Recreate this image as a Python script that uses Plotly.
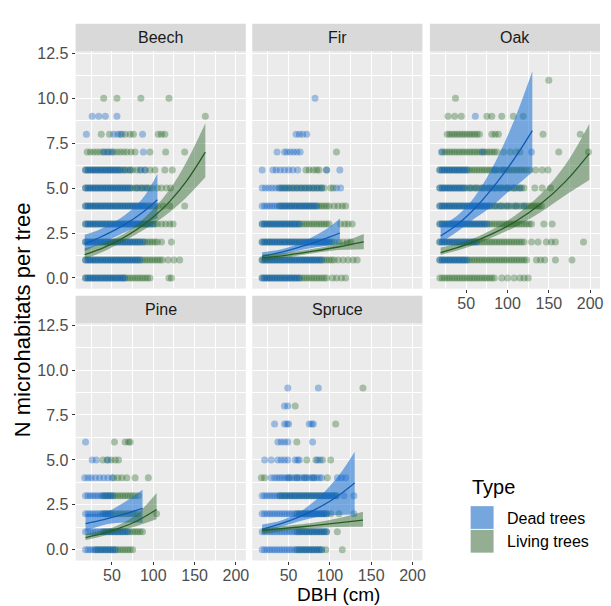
import plotly.graph_objects as go

# ---------------- data ----------------
panel_names = ["Beech", "Fir", "Oak", "Pine", "Spruce"]
type_labels = ["Dead trees", "Living trees"]
x_ticks = [50, 100, 150, 200]
y_ticks = [0, 2.5, 5, 7.5, 10, 12.5]
y_tick_text = ["0.0", "2.5", "5.0", "7.5", "10.0", "12.5"]

# observed trees: {N microhabitats: [DBH values]}
beech_dead = {
    0: [18, 21, 24, 27, 30, 33, 36, 39, 42, 45, 48, 51, 54, 57, 60, 63, 65],
    1: [18, 21, 24, 27, 30, 33, 36, 39, 42, 45, 48, 51, 54, 57, 60, 63, 66, 69, 72, 75, 78, 81, 84],
    2: [18, 21, 24, 27, 30, 33, 36, 39, 42, 45, 48, 51, 54, 57, 60, 63, 66, 69, 72, 75, 78, 81, 84, 88],
    3: [18, 21, 24, 27, 30, 33, 36, 39, 42, 45, 48, 51, 54, 57, 60, 63, 66, 69, 72, 75, 78, 81, 84, 87, 90, 93, 96, 100],
    4: [18, 21, 24, 27, 30, 33, 36, 39, 42, 45, 48, 51, 54, 57, 60, 63, 66, 69, 72, 75, 78, 81, 84, 87, 90, 95, 102],
    5: [18, 21, 24, 27, 30, 33, 36, 39, 42, 45, 48, 51, 54, 57, 60, 63, 66, 69, 72, 80, 86, 92],
    6: [18, 21, 24, 27, 30, 33, 36, 39, 42, 45, 48, 51, 54, 57, 60, 65, 72, 84, 90],
    7: [40, 45, 50, 88],
    8: [19, 52, 57, 62, 87],
    9: [26, 34, 42, 56],
}
beech_live = {
    0: [18, 21, 24, 27, 30, 33, 36, 39, 42, 45, 48, 51, 54, 57, 60, 63, 66, 69, 72, 75, 78, 81, 84, 87, 90, 93, 96, 119, 122],
    1: [18, 21, 24, 27, 30, 33, 36, 39, 42, 45, 48, 51, 54, 57, 60, 63, 66, 69, 72, 75, 78, 81, 84, 87, 90, 93, 96, 99, 102, 105, 108, 111, 118, 125, 132],
    2: [18, 21, 24, 27, 30, 33, 36, 39, 42, 45, 48, 51, 54, 57, 60, 63, 66, 69, 72, 75, 78, 81, 84, 87, 90, 93, 96, 99, 102, 105, 110, 122],
    3: [18, 21, 24, 27, 30, 33, 36, 39, 42, 45, 48, 51, 54, 57, 60, 63, 66, 69, 72, 75, 78, 81, 84, 87, 90, 93, 96, 99, 102, 105, 110, 115, 120, 124],
    4: [18, 21, 24, 27, 30, 33, 36, 39, 42, 45, 48, 51, 54, 57, 60, 63, 66, 69, 72, 75, 78, 81, 84, 87, 90, 93, 96, 99, 105, 112, 120, 138],
    5: [18, 21, 24, 27, 30, 33, 36, 39, 42, 45, 48, 51, 54, 57, 60, 63, 66, 69, 72, 75, 78, 81, 84, 87, 90, 93, 96, 99, 105, 110, 116, 121],
    6: [18, 21, 24, 27, 30, 33, 36, 39, 42, 45, 48, 51, 54, 57, 60, 63, 66, 69, 72, 75, 80, 85, 90, 96, 102, 114, 123],
    7: [20, 24, 28, 32, 36, 40, 44, 48, 52, 56, 60, 64, 68, 73, 78, 96, 115, 138],
    8: [37, 47, 60, 66, 72, 76, 106, 110, 114],
    9: [163],
    10: [40, 56, 85, 119],
}
fir_dead = {
    0: [18, 21, 24, 27, 30, 33, 36, 39, 42, 45, 48, 51, 54, 57, 60, 63],
    1: [18, 21, 24, 27, 30, 33, 36, 39, 42, 45, 48, 51, 54, 57, 60, 63, 66, 69, 72, 75, 78, 81, 84, 87, 90],
    2: [18, 21, 24, 27, 30, 33, 36, 39, 42, 45, 48, 51, 54, 57, 60, 63, 66, 69, 72, 75, 78, 81, 84, 87, 90, 93, 96, 99],
    3: [18, 21, 24, 27, 30, 33, 36, 39, 42, 45, 48, 51, 54, 57, 60, 63],
    4: [18, 21, 24, 27, 30, 33, 36, 39, 42, 45, 48, 51, 54, 57, 60, 63, 66, 69, 72, 75, 78, 81, 84],
    5: [18, 22, 26, 30, 34, 38, 42, 46, 50, 55, 60, 65, 70, 75, 80, 85, 90, 108, 113],
    6: [18, 31, 35, 40, 45, 50, 55, 61, 96, 112],
    7: [36, 45, 48, 52, 56, 60, 64],
    8: [59, 63, 67, 72],
    10: [82],
}
fir_live = {
    0: [18, 21, 24, 27, 30, 33, 36, 39, 42, 45, 48, 51, 54, 57, 60, 63, 66, 69, 72, 75, 78, 81, 84, 87, 90, 93, 96, 103, 108, 114, 119],
    1: [18, 21, 24, 27, 30, 33, 36, 39, 42, 45, 48, 51, 54, 57, 60, 63, 66, 69, 72, 75, 78, 81, 84, 87, 90, 93, 96, 99, 102, 105, 110, 116, 122, 128, 133],
    2: [18, 21, 24, 27, 30, 33, 36, 39, 42, 45, 48, 51, 54, 57, 60, 63, 66, 69, 72, 75, 78, 81, 84, 87, 90, 93, 96, 99, 102, 105, 111, 116, 121, 125],
    3: [18, 21, 24, 27, 30, 33, 36, 39, 42, 45, 48, 51, 54, 57, 60, 63, 66, 69, 72, 75, 78, 81, 84, 87, 90, 93, 96, 99, 113, 118, 122, 127],
    4: [39, 42, 45, 48, 51, 54, 57, 60, 63, 66, 69, 72, 75, 78, 81, 84, 87, 90, 93, 96, 99, 105, 110, 115, 119],
    5: [39, 42, 45, 48, 51, 54, 57, 60, 63, 66, 69, 72, 75, 78, 81, 84, 87, 90, 93, 101, 104],
    6: [71, 75, 80, 84, 87, 96],
    7: [108],
}
oak_dead = {
    1: [18, 21, 24, 27, 30, 33, 36, 39, 42, 45, 48, 51],
    2: [18, 21, 24, 27, 30, 33, 36, 39, 42, 45, 48, 51, 54, 57, 60, 63],
    3: [18, 21, 24, 27, 30, 33, 36, 39, 42, 45, 48, 51, 54, 57, 60, 63, 66, 69, 72, 75],
    4: [18, 21, 24, 27, 30, 33, 36, 39, 42, 45, 48, 51, 54, 57, 60, 63, 66, 69, 72, 75, 78, 85, 92, 100, 110, 120],
    5: [18, 21, 24, 27, 30, 33, 36, 39, 42, 45, 48, 55, 62, 70, 78, 85, 92, 100, 108, 115],
    6: [18, 21, 24, 27, 30, 33, 36, 39, 42, 45, 48, 51, 85, 95],
    7: [20, 70, 129],
    9: [61],
}
oak_live = {
    0: [18, 21, 24, 27, 30, 33, 36, 39, 42, 45, 48, 51, 54, 57, 60, 63, 66, 69, 72, 75, 78, 81, 84, 93, 100, 108, 115, 120, 125],
    1: [18, 21, 24, 27, 30, 33, 36, 39, 42, 45, 48, 51, 54, 57, 60, 63, 66, 69, 72, 75, 78, 81, 84, 87, 90, 93, 96, 99, 102, 105, 108, 111, 114, 117, 120, 123, 135, 140, 145, 158, 178],
    2: [18, 21, 24, 27, 30, 33, 36, 39, 42, 45, 48, 51, 54, 57, 60, 63, 66, 69, 72, 75, 78, 81, 84, 87, 90, 93, 96, 99, 102, 105, 108, 111, 114, 117, 120, 129, 137, 147, 153, 158, 192],
    3: [18, 21, 24, 27, 30, 33, 36, 39, 42, 45, 48, 51, 54, 57, 60, 63, 66, 69, 72, 75, 78, 81, 84, 87, 90, 93, 96, 99, 102, 105, 108, 111, 114, 117, 120, 123, 126, 129, 144, 154],
    4: [18, 21, 24, 27, 30, 33, 36, 39, 42, 45, 48, 51, 54, 57, 60, 63, 66, 69, 72, 75, 78, 81, 84, 87, 90, 93, 96, 99, 102, 105, 108, 111, 114, 117, 120, 123, 126, 129, 132, 135, 138, 141],
    5: [18, 21, 24, 27, 30, 33, 36, 39, 42, 45, 48, 51, 54, 57, 60, 63, 66, 69, 72, 75, 78, 81, 84, 87, 90, 93, 96, 99, 102, 105, 108, 111, 114, 117, 120, 133, 142, 152],
    6: [18, 21, 24, 27, 30, 33, 36, 39, 42, 45, 48, 51, 54, 57, 60, 63, 66, 69, 72, 75, 78, 81, 84, 87, 90, 93, 96, 99, 102, 105, 108, 111, 114, 117, 120, 123, 127, 134, 142, 149],
    7: [21, 24, 27, 30, 33, 36, 39, 42, 45, 48, 51, 54, 57, 60, 63, 66, 69, 72, 75, 78, 81, 84, 87, 95, 103, 110, 115, 162, 198],
    8: [27, 30, 33, 36, 39, 42, 45, 48, 51, 54, 57, 60, 63, 66, 81, 85, 89, 143, 188],
    9: [28, 36, 44, 75, 81, 93, 107, 119],
    10: [37],
    11: [150],
}
pine_dead = {
    0: [18, 21, 24, 27, 30, 33, 36, 39, 42, 45, 48, 51, 54],
    1: [18, 21, 24, 27, 30, 33, 36, 39, 42, 45, 48, 51, 54, 57, 60, 63, 66, 69],
    2: [18, 21, 24, 27, 30, 33, 36, 39, 42, 45, 48],
    3: [18, 21, 24, 27, 30, 33, 36, 39, 42, 45, 48, 51],
    4: [17, 21, 25, 30, 35, 40, 45, 50],
    5: [26, 31, 45],
    6: [18],
}
pine_live = {
    0: [30, 33, 36, 39, 42, 45, 48, 51, 54, 57, 60, 63, 66, 69, 72, 75],
    1: [39, 42, 45, 48, 51, 54, 57, 60, 63, 66, 69, 72, 75, 78, 81, 84, 87],
    2: [39, 42, 45, 48, 51, 54, 57, 60, 63, 66, 69, 72, 75, 78, 81, 104],
    3: [39, 42, 45, 48, 51, 54, 57, 60, 63, 66, 69, 72, 75, 78, 82],
    4: [52, 57, 62, 68, 78, 94],
    5: [39, 44, 49, 54, 58],
    6: [53, 66, 70, 72],
}
spruce_dead = {
    0: [18, 21, 24, 27, 30, 33, 36, 39, 42, 45, 48, 51, 54, 57, 60, 63, 66, 69, 72, 75, 78, 81, 84, 87, 90],
    1: [18, 21, 24, 27, 30, 33, 36, 39, 42, 45, 48, 51, 54, 57, 60, 63, 66, 69, 72, 75, 78, 81, 84, 87, 90, 93, 96],
    2: [18, 21, 24, 27, 30, 33, 36, 39, 42, 45, 48, 51, 54, 57, 60, 63, 66, 69, 72, 75, 78, 81, 84, 87, 90, 93, 96, 129],
    3: [18, 21, 24, 27, 30, 33, 36, 39, 42, 45, 48, 51, 54, 57, 60, 63, 66, 69, 72, 75, 78, 81, 84, 87, 90, 93, 96, 99, 102, 105, 108, 117, 129],
    4: [29, 33, 36, 39, 42, 45, 48, 51, 54, 57, 60, 63, 66, 69, 72, 75, 78, 81, 84, 87, 90, 109, 114, 119],
    5: [21, 29, 37, 41, 45, 49, 58, 61, 63, 85, 88],
    6: [37, 41, 45, 49, 79],
    7: [33, 45, 48, 50, 75, 78, 80],
    8: [45, 49],
    9: [49, 86],
}
spruce_live = {
    0: [60, 63, 66, 69, 72, 75, 78, 81, 84, 87, 90, 95, 115],
    1: [60, 63, 66, 69, 72, 75, 78, 81, 84, 87, 90, 93, 96, 109],
    2: [60, 63, 66, 69, 72, 75, 78, 81, 84, 87, 90, 93, 96, 101, 111],
    3: [39, 42, 45, 48, 51, 54, 57, 60, 63, 66, 69, 72, 75, 78, 81, 84, 87, 90, 93, 96, 99, 102, 105, 108],
    4: [17, 21, 50, 60, 70, 80, 97],
    5: [72, 83, 91, 101],
    6: [60],
    7: [107],
    8: [58],
    9: [140],
}

# fitted mean and 95% band: x (DBH), mean, lower, upper
beech_dead_fit = dict(x=[17, 35, 55, 75, 90, 105],
                      mean=[1.9, 2.25, 2.7, 3.25, 3.75, 4.35],
                      lo=[1.5, 1.88, 2.3, 2.75, 3.05, 3.3],
                      hi=[2.4, 2.7, 3.17, 3.85, 4.6, 5.8])
beech_live_fit = dict(x=[17, 40, 60, 80, 100, 120, 140, 163],
                      mean=[1.3, 1.69, 2.13, 2.69, 3.39, 4.26, 5.37, 7.0],
                      lo=[1.05, 1.47, 1.94, 2.45, 3.0, 3.67, 4.48, 5.6],
                      hi=[1.65, 1.94, 2.34, 2.96, 3.83, 4.94, 6.44, 8.6])
fir_dead_fit = dict(x=[18, 40, 60, 80, 100, 112],
                    mean=[1.2, 1.42, 1.67, 1.95, 2.28, 2.5],
                    lo=[1.0, 1.28, 1.5, 1.68, 1.82, 1.9],
                    hi=[1.43, 1.58, 1.86, 2.3, 2.85, 3.3])
fir_live_fit = dict(x=[18, 50, 80, 110, 141],
                    mean=[1.1, 1.28, 1.49, 1.72, 2.0],
                    lo=[0.92, 1.15, 1.37, 1.55, 1.6],
                    hi=[1.3, 1.42, 1.62, 1.92, 2.45])
oak_dead_fit = dict(x=[19, 40, 60, 80, 100, 115, 130],
                    mean=[2.33, 3.0, 3.85, 4.9, 6.1, 7.1, 8.2],
                    lo=[1.97, 2.6, 3.3, 3.95, 4.75, 5.3, 5.9],
                    hi=[2.88, 3.5, 4.5, 6.0, 7.9, 9.6, 11.5])
oak_live_fit = dict(x=[19, 50, 80, 110, 140, 170, 199],
                    mean=[1.41, 1.85, 2.42, 3.15, 4.11, 5.36, 6.92],
                    lo=[1.28, 1.68, 2.22, 2.85, 3.65, 4.6, 5.45],
                    hi=[1.69, 2.05, 2.65, 3.5, 4.65, 6.3, 8.57])
pine_dead_fit = dict(x=[18, 40, 60, 87],
                     mean=[1.45, 1.68, 1.92, 2.3],
                     lo=[1.05, 1.38, 1.5, 1.5],
                     hi=[2.0, 2.05, 2.5, 3.34])
pine_live_fit = dict(x=[18, 40, 60, 80, 104],
                     mean=[0.68, 0.92, 1.22, 1.6, 2.24],
                     lo=[0.53, 0.78, 1.05, 1.32, 1.69],
                     hi=[0.86, 1.08, 1.42, 1.98, 3.16])
spruce_dead_fit = dict(x=[18, 40, 60, 80, 100, 115, 130],
                       mean=[1.14, 1.44, 1.77, 2.19, 2.7, 3.17, 3.71],
                       lo=[0.95, 1.27, 1.55, 1.78, 1.9, 1.95, 1.98],
                       hi=[1.41, 1.62, 2.0, 2.65, 3.55, 4.4, 5.45])
spruce_live_fit = dict(x=[18, 50, 80, 110, 140],
                       mean=[1.08, 1.21, 1.34, 1.49, 1.65],
                       lo=[0.88, 1.08, 1.2, 1.27, 1.28],
                       hi=[1.2, 1.35, 1.5, 1.75, 2.11])

# ---------------- styling / layout ----------------
W, H = 611, 606
FONT = "Liberation Sans, Arial, sans-serif"
DEAD_PT = "#0F62C4"
LIVE_PT = "#2A692A"
DEAD_FILL = "rgba(20,110,210,0.55)"
LIVE_FILL = "rgba(40,100,40,0.45)"
DEAD_LINE = "#0F5BB5"
LIVE_LINE = "#255E25"

col_px = {1: (76, 247), 2: (253.5, 424.5), 3: (432, 603)}
row_px = {1: (45, 285), 2: (320, 560)}
STRIP = 28

panels = [
    ("Beech", 1, 1, beech_dead, beech_live, beech_dead_fit, beech_live_fit),
    ("Fir", 1, 2, fir_dead, fir_live, fir_dead_fit, fir_live_fit),
    ("Oak", 1, 3, oak_dead, oak_live, oak_dead_fit, oak_live_fit),
    ("Pine", 2, 1, pine_dead, pine_live, pine_dead_fit, pine_live_fit),
    ("Spruce", 2, 2, spruce_dead, spruce_live, spruce_dead_fit, spruce_live_fit),
]


def px_x(p):
    return p / W


def px_y(p):
    return 1 - p / H


fig = go.Figure()
shapes = []
annotations = []
layout_axes = {}

for i, (name, row, col, dead, live, fd, fl) in enumerate(panels):
    suf = "" if i == 0 else str(i + 1)
    xa, ya = "x" + suf, "y" + suf

    for d, color in [(live, LIVE_PT), (dead, DEAD_PT)]:
        xs, ys = [], []
        for lvl, xl in d.items():
            xs += xl
            ys += [lvl] * len(xl)
        fig.add_trace(go.Scatter(
            x=xs, y=ys, mode="markers", xaxis=xa, yaxis=ya,
            marker=dict(size=7, color=color, opacity=0.36, line=dict(width=0)),
            showlegend=False, hoverinfo="skip"))

    for fit, fill, lc in [(fd, DEAD_FILL, DEAD_LINE), (fl, LIVE_FILL, LIVE_LINE)]:
        fig.add_trace(go.Scatter(
            x=fit["x"], y=fit["lo"], mode="lines", xaxis=xa, yaxis=ya,
            line=dict(width=0, shape="spline"), showlegend=False, hoverinfo="skip"))
        fig.add_trace(go.Scatter(
            x=fit["x"], y=fit["hi"], mode="lines", xaxis=xa, yaxis=ya,
            line=dict(width=0, shape="spline"), fill="tonexty", fillcolor=fill,
            showlegend=False, hoverinfo="skip"))
        fig.add_trace(go.Scatter(
            x=fit["x"], y=fit["mean"], mode="lines", xaxis=xa, yaxis=ya,
            line=dict(width=1.3, color=lc, shape="spline"),
            showlegend=False, hoverinfo="skip"))

    x0, x1 = col_px[col]
    y0, y1 = row_px[row]
    show_x = (row == 2) or (col == 3)
    show_y = col == 1
    layout_axes["xaxis" + suf] = dict(
        domain=[px_x(x0), px_x(x1)], range=[6, 212], anchor=ya,
        tickvals=x_ticks, showticklabels=show_x,
        ticks="outside" if show_x else "", ticklen=3, tickwidth=1, tickcolor="#333333",
        ticklabelstandoff=-3,
        tickfont=dict(size=16, color="#4D4D4D", family=FONT),
        showgrid=True, gridcolor="white", gridwidth=1.2,
        minor=dict(tickvals=[25, 75, 125, 175], showgrid=True, gridcolor="white",
                   gridwidth=0.6, ticks=""),
        zeroline=False, showline=False, fixedrange=True)
    layout_axes["yaxis" + suf] = dict(
        domain=[px_y(y1), px_y(y0)], range=[-0.6, 12.6], anchor=xa,
        tickvals=y_ticks, ticktext=y_tick_text, showticklabels=show_y,
        ticks="outside" if show_y else "", ticklen=3, tickwidth=1, tickcolor="#333333",
        tickfont=dict(size=16, color="#4D4D4D", family=FONT),
        showgrid=True, gridcolor="white", gridwidth=1.2,
        minor=dict(tickvals=[1.25, 3.75, 6.25, 8.75, 11.25], showgrid=True,
                   gridcolor="white", gridwidth=0.6, ticks=""),
        zeroline=False, showline=False, fixedrange=True)

    # facet strip
    shapes.append(dict(type="rect", xref="paper", yref="paper",
                       x0=px_x(x0), x1=px_x(x1), y0=px_y(y0), y1=px_y(y0 - STRIP),
                       fillcolor="#D9D9D9", line=dict(width=0), layer="below"))
    annotations.append(dict(text=name, xref="paper", yref="paper",
                            x=px_x((x0 + x1) / 2), y=px_y(y0 - STRIP / 2),
                            xanchor="center", yanchor="middle", showarrow=False,
                            font=dict(size=16, color="#1A1A1A", family=FONT)))

# axis titles
annotations.append(dict(text="DBH (cm)", xref="paper", yref="paper",
                        x=px_x(340), y=px_y(594), xanchor="center", yanchor="middle",
                        showarrow=False, font=dict(size=19, color="black", family=FONT)))
annotations.append(dict(text="N microhabitats per tree", xref="paper", yref="paper",
                        x=px_x(22), y=px_y(316), xanchor="center", yanchor="middle",
                        textangle=-90, showarrow=False,
                        font=dict(size=22, color="black", family=FONT)))

# legend (drawn in the empty facet slot)
annotations.append(dict(text="Type", xref="paper", yref="paper",
                        x=px_x(472), y=px_y(486), xanchor="left", yanchor="middle",
                        showarrow=False, font=dict(size=20, color="black", family=FONT)))
for k, (lab, fill) in enumerate(zip(type_labels, [DEAD_FILL, LIVE_FILL])):
    ky0 = 505 + k * 24
    shapes.append(dict(type="rect", xref="paper", yref="paper",
                       x0=px_x(473), x1=px_x(496), y0=px_y(ky0 + 23), y1=px_y(ky0),
                       fillcolor="#EBEBEB", line=dict(width=0)))
    shapes.append(dict(type="rect", xref="paper", yref="paper",
                       x0=px_x(473), x1=px_x(496), y0=px_y(ky0 + 23), y1=px_y(ky0),
                       fillcolor=fill, line=dict(width=0)))
    annotations.append(dict(text=lab, xref="paper", yref="paper",
                            x=px_x(507), y=px_y(ky0 + 12), xanchor="left", yanchor="middle",
                            showarrow=False, font=dict(size=16, color="black", family=FONT)))

fig.update_layout(
    width=W, height=H, margin=dict(l=0, r=0, t=0, b=0),
    paper_bgcolor="white", plot_bgcolor="#EBEBEB",
    font=dict(family=FONT), showlegend=False,
    shapes=shapes, annotations=annotations, **layout_axes)

fig.write_html(
    "out.html",
    config={"displayModeBar": False},
    post_script="document.body.style.margin='0';document.body.style.overflow='hidden';",
)
